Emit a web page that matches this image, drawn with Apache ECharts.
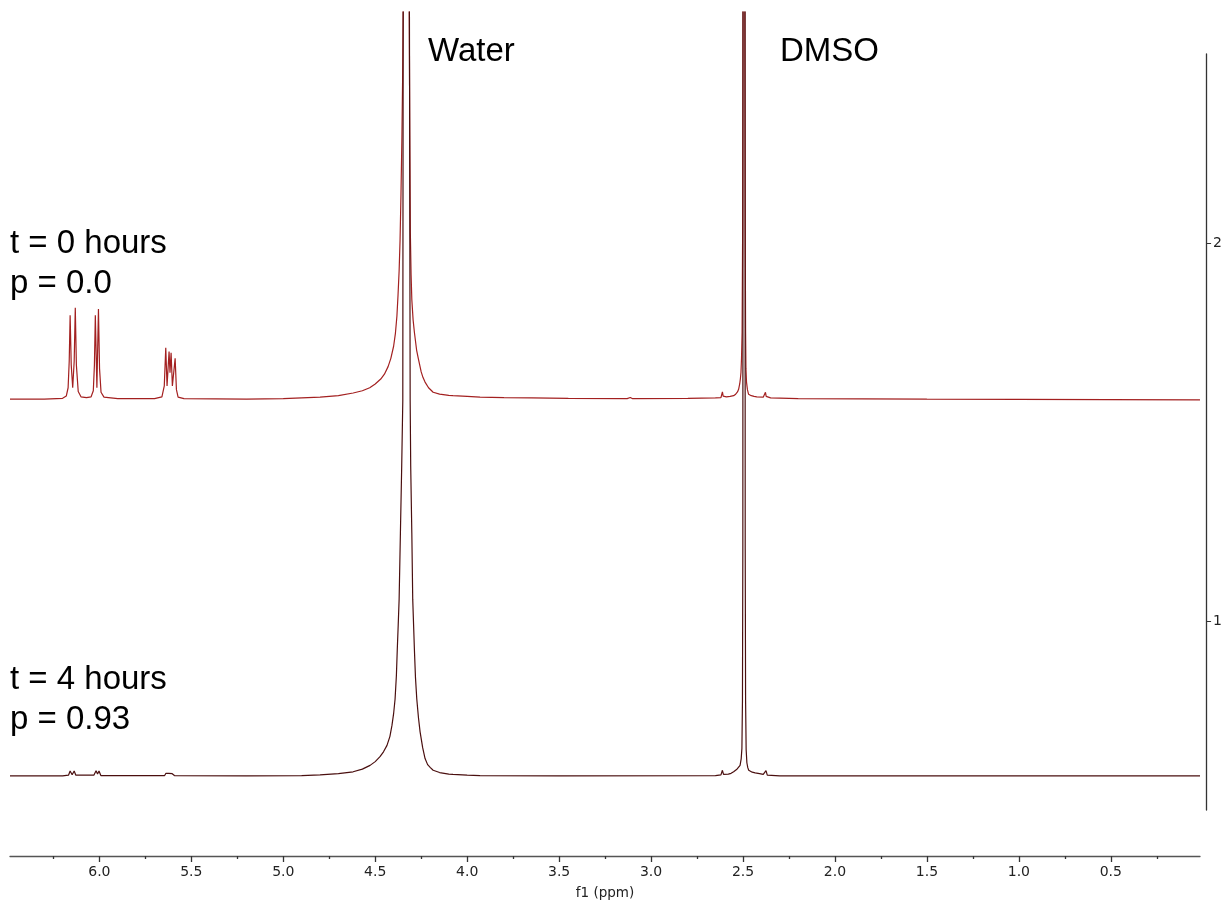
<!DOCTYPE html>
<html>
<head>
<meta charset="utf-8">
<title>NMR stack</title>
<script src="https://cdn.jsdelivr.net/npm/echarts@6/dist/echarts.min.js"></script>
<style>
  html, body { margin: 0; padding: 0; background: #ffffff; }
  #chart { width: 1225px; height: 905px; }
</style>
</head>
<body>
<div id="chart"></div>
<script>
// chemical shift ticks (ppm)
var majorTicks = [6.0, 5.5, 5.0, 4.5, 4.0, 3.5, 3.0, 2.5, 2.0, 1.5, 1.0, 0.5]
var minorTicks = [6.25, 5.75, 5.25, 4.75, 4.25, 3.75, 3.25, 2.75, 2.25, 1.75, 1.25, 0.75, 0.25]
var stackTicks = [1, 2]

// baseline of each spectrum on the stack axis
var offsetT0 = 1.585
var offsetT4 = 0.586

// t = 0 hours, [ppm, intensity above baseline]
var spectrumT0 = [
  [6.486, 0.0], [6.30, 0.0], [6.20, 0.002], [6.180, 0.008], [6.170, 0.03],
  [6.164, 0.10], [6.159, 0.222], [6.153, 0.09], [6.145, 0.03], [6.137, 0.10],
  [6.131, 0.242], [6.125, 0.09], [6.115, 0.02], [6.100, 0.006], [6.070, 0.004],
  [6.045, 0.006], [6.033, 0.022], [6.027, 0.09], [6.022, 0.222], [6.0135, 0.03],
  [6.005, 0.239], [5.999, 0.08], [5.991, 0.018], [5.975, 0.005], [5.90, 0.001],
  [5.70, 0.001], [5.660, 0.006], [5.647, 0.035], [5.639, 0.136], [5.632, 0.035],
  [5.626, 0.04], [5.621, 0.126], [5.616, 0.07], [5.610, 0.123], [5.603, 0.035],
  [5.596, 0.03], [5.588, 0.108], [5.581, 0.025], [5.572, 0.005], [5.540, 0.001],
  [5.20, 0.0], [5.00, 0.001], [4.90, 0.003], [4.80, 0.005], [4.70, 0.009],
  [4.62, 0.016], [4.57, 0.022], [4.53, 0.030], [4.50, 0.040], [4.47, 0.053],
  [4.45, 0.066], [4.43, 0.086], [4.415, 0.108], [4.40, 0.140], [4.39, 0.175],
  [4.382, 0.220], [4.376, 0.275], [4.370, 0.340], [4.365, 0.420], [4.360, 0.540],
  [4.355, 0.690], [4.351, 0.850], [4.348, 1.024], [4.332, 3.5], [4.315, 1.024],
  [4.312, 0.70], [4.309, 0.441], [4.305, 0.33], [4.301, 0.264], [4.294, 0.210],
  [4.287, 0.177], [4.275, 0.130], [4.265, 0.106], [4.250, 0.072], [4.240, 0.057],
  [4.229, 0.045], [4.210, 0.030], [4.185, 0.018], [4.150, 0.013], [4.100, 0.010],
  [4.077, 0.009], [4.000, 0.007], [3.930, 0.005], [3.800, 0.004], [3.650, 0.003],
  [3.450, 0.002], [3.13, 0.001], [3.113, 0.004], [3.10, 0.001], [2.80, 0.002],
  [2.650, 0.003], [2.620, 0.004], [2.615, 0.008], [2.612, 0.019], [2.608, 0.008],
  [2.590, 0.006], [2.570, 0.007], [2.551, 0.009], [2.540, 0.013], [2.530, 0.019],
  [2.524, 0.026], [2.518, 0.040], [2.514, 0.055], [2.511, 0.071], [2.508, 0.11],
  [2.505, 0.177], [2.502, 0.45], [2.500, 1.024], [2.495, 3.5], [2.490, 1.024],
  [2.488, 0.45], [2.486, 0.177], [2.484, 0.08], [2.481, 0.045], [2.476, 0.025],
  [2.470, 0.013], [2.455, 0.009], [2.440, 0.007], [2.425, 0.006], [2.390, 0.005],
  [2.382, 0.008], [2.378, 0.018], [2.374, 0.007], [2.350, 0.003], [2.20, 0.001],
  [1.50, 0.0], [0.015, -0.002]
]

// t = 4 hours
var spectrumT4 = [
  [6.486, 0.0], [6.20, 0.0], [6.168, 0.002], [6.159, 0.013], [6.148, 0.003],
  [6.137, 0.013], [6.128, 0.002], [6.030, 0.002], [6.018, 0.014], [6.010, 0.005],
  [6.002, 0.013], [5.992, 0.001], [5.645, 0.001], [5.638, 0.007], [5.632, 0.003],
  [5.622, 0.007], [5.612, 0.003], [5.604, 0.006], [5.592, 0.001], [5.20, 0.0],
  [4.90, 0.001], [4.80, 0.003], [4.70, 0.006], [4.62, 0.011], [4.57, 0.018],
  [4.528, 0.028], [4.50, 0.038], [4.474, 0.051], [4.455, 0.064], [4.436, 0.081],
  [4.42, 0.105], [4.409, 0.134], [4.40, 0.165], [4.392, 0.204], [4.385, 0.265],
  [4.380, 0.336], [4.375, 0.40], [4.370, 0.468], [4.363, 0.645], [4.356, 0.820],
  [4.350, 0.996], [4.348, 2.03], [4.332, 5.0], [4.314, 2.03], [4.310, 0.996],
  [4.307, 0.820], [4.301, 0.645], [4.296, 0.468], [4.287, 0.336], [4.281, 0.26],
  [4.274, 0.204], [4.265, 0.155], [4.256, 0.117], [4.242, 0.075], [4.229, 0.046],
  [4.215, 0.030], [4.200, 0.022], [4.185, 0.015], [4.150, 0.009], [4.100, 0.005],
  [4.077, 0.004], [4.00, 0.002], [3.93, 0.001], [3.50, 0.0], [2.650, 0.001],
  [2.620, 0.003], [2.612, 0.015], [2.606, 0.004], [2.580, 0.005], [2.565, 0.007],
  [2.551, 0.011], [2.535, 0.017], [2.525, 0.022], [2.516, 0.028], [2.510, 0.045],
  [2.506, 0.073], [2.503, 0.2], [2.501, 0.6], [2.500, 2.03], [2.495, 5.0],
  [2.489, 2.03], [2.488, 0.6], [2.486, 0.2], [2.483, 0.07], [2.479, 0.035],
  [2.474, 0.022], [2.469, 0.015], [2.450, 0.010], [2.434, 0.008], [2.410, 0.006],
  [2.390, 0.004], [2.375, 0.014], [2.368, 0.002], [2.30, 0.0], [0.015, 0.0]
]

var ppmMin = 0.015
var ppmMax = 6.486

function shift(points, offset) {
  return points.map(function (p) { return [p[0], p[1] + offset] })
}

var labelFont = 'Liberation Sans, Arial, sans-serif'
function label(text, x, y) {
  return {
    type: 'text',
    x: x,
    y: y,
    style: {
      text: text,
      fontSize: 33,
      fontFamily: labelFont,
      fill: '#000000',
      align: 'left',
      verticalAlign: 'middle'
    }
  }
}

var chart = echarts.init(document.getElementById('chart'))
chart.setOption({
  backgroundColor: '#ffffff',
  animation: false,
  grid: [
    { left: 10, right: 25, top: 12, bottom: 47 },
    { left: 10, right: 18, top: 54, bottom: 95 }
  ],
  xAxis: [{
    type: 'value',
    gridIndex: 0,
    inverse: true,
    min: ppmMin,
    max: ppmMax,
    position: 'bottom',
    name: 'f1 (ppm)',
    nameLocation: 'middle',
    nameGap: 30,
    nameTextStyle: {
      fontSize: 13.5,
      fontFamily: 'DejaVu Sans',
      color: '#222222'
    },
    splitLine: { show: false },
    axisLine: {
      lineStyle: { color: '#555555', width: 1.3 }
    },
    axisTick: {
      customValues: majorTicks,
      length: 6,
      lineStyle: { color: '#333333', width: 1.3 }
    },
    axisLabel: {
      customValues: majorTicks,
      margin: 9,
      fontSize: 14,
      fontFamily: 'DejaVu Sans',
      color: '#222222',
      formatter: function (v) { return v.toFixed(1) }
    }
  }, {
    type: 'value',
    gridIndex: 0,
    inverse: true,
    min: ppmMin,
    max: ppmMax,
    position: 'bottom',
    splitLine: { show: false },
    axisLine: { show: false },
    axisTick: {
      customValues: minorTicks,
      length: 3,
      lineStyle: { color: '#333333', width: 1.3 }
    },
    axisLabel: { show: false }
  }, {
    type: 'value',
    gridIndex: 1,
    inverse: true,
    min: ppmMin,
    max: ppmMax,
    show: false
  }],
  yAxis: [{
    type: 'value',
    gridIndex: 0,
    min: 0.3738,
    max: 2.611,
    show: false
  }, {
    type: 'value',
    gridIndex: 1,
    position: 'right',
    min: 0.5,
    max: 2.5,
    splitLine: { show: false },
    axisLine: {
      show: true,
      lineStyle: { color: '#333333', width: 1.3 }
    },
    axisTick: {
      customValues: stackTicks,
      length: 5,
      lineStyle: { color: '#333333' }
    },
    axisLabel: {
      customValues: stackTicks,
      margin: 7,
      fontSize: 14,
      fontFamily: 'DejaVu Sans',
      color: '#222222'
    }
  }],
  series: [{
    name: 't = 0 hours',
    type: 'line',
    xAxisIndex: 0,
    yAxisIndex: 0,
    showSymbol: false,
    data: shift(spectrumT0, offsetT0),
    lineStyle: { color: '#a32020', width: 1.2 }
  }, {
    name: 't = 4 hours',
    type: 'line',
    xAxisIndex: 0,
    yAxisIndex: 0,
    showSymbol: false,
    data: shift(spectrumT4, offsetT4),
    lineStyle: { color: '#4a0f0f', width: 1.2 }
  }],
  graphic: [
    label('Water', 428, 52),
    label('DMSO', 780, 52),
    label('t = 0 hours', 10, 244),
    label('p = 0.0', 10, 284),
    label('t = 4 hours', 10, 680),
    label('p = 0.93', 10, 720)
  ]
})
</script>
</body>
</html>
